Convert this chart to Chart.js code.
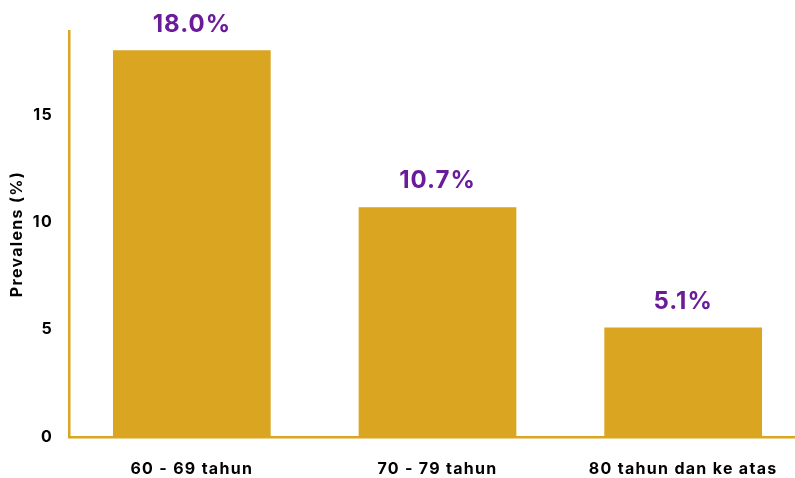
<!DOCTYPE html>
<html>
<head>
<meta charset="utf-8">
<script src="https://cdn.jsdelivr.net/npm/chart.js@4"></script>
<style>
    html, body { margin: 0; padding: 0; background: #fff; overflow: hidden; }
    #wrap { width: 810px; height: 478px; }
</style>
</head>
<body>
<div id="wrap"><canvas id="chart"></canvas></div>
<script>
const categories = ['60 - 69 tahun', '70 - 79 tahun', '80 tahun dan ke atas'];
const prevalence = [18.0, 10.7, 5.1];
const yTicks = [0, 5, 10, 15];

const gold = '#DAA520';
const purple = '#6A1B9A';
const fontFamily = 'Inter, "DejaVu Sans", sans-serif';

// the reference font is wider than Inter, so spread the letters a bit
const wideText = {
    id: 'wideText',
    beforeLayout(chart) { chart.ctx.letterSpacing = '1.3px'; },
    beforeDraw(chart) { chart.ctx.letterSpacing = '1.3px'; }
};

// draws the "18.0%" labels above each bar
const valueLabels = {
    id: 'valueLabels',
    afterDatasetsDraw(chart) {
        const ctx = chart.ctx;
        const meta = chart.getDatasetMeta(0);
        ctx.save();
        ctx.letterSpacing = '1px';
        ctx.fillStyle = purple;
        ctx.font = 'bold 24px ' + fontFamily;
        ctx.textAlign = 'center';
        ctx.textBaseline = 'bottom';
        meta.data.forEach((bar, i) => {
            ctx.fillText(prevalence[i].toFixed(1) + '%', bar.x, bar.y - 14);
        });
        ctx.restore();
    }
};

new Chart(document.getElementById('chart'), {
    type: 'bar',
    data: {
        labels: categories,
        datasets: [{
            data: prevalence,
            backgroundColor: gold,
            barPercentage: 0.642,
            categoryPercentage: 1
        }]
    },
    options: {
        responsive: true,
        maintainAspectRatio: false,
        animation: false,
        layout: { padding: { top: 31, right: 4, left: 0, bottom: 0 } },
        plugins: {
            legend: { display: false },
            tooltip: { enabled: false }
        },
        scales: {
            x: {
                grid: { display: false, drawTicks: false },
                border: { color: gold, width: 2.5 },
                ticks: {
                    color: '#000',
                    padding: 23,
                    font: { family: fontFamily, size: 16, weight: 'bold' }
                },
                afterFit(scale) { scale.height = 41; }
            },
            y: {
                min: 0,
                max: 18.9,
                grid: { display: false, drawTicks: false },
                border: { color: gold, width: 2.5 },
                afterBuildTicks(scale) { scale.ticks = yTicks.map(v => ({ value: v })); },
                ticks: {
                    color: '#000',
                    padding: 16,
                    font: { family: fontFamily, size: 16, weight: 'bold' }
                },
                title: {
                    display: true,
                    text: 'Prevalens (%)',
                    color: '#000',
                    padding: { top: 8, bottom: 0 },
                    font: { family: fontFamily, size: 16, weight: 'bold' }
                },
                afterFit(scale) { scale.width = 69; }
            }
        }
    },
    plugins: [wideText, valueLabels]
});
</script>
</body>
</html>
